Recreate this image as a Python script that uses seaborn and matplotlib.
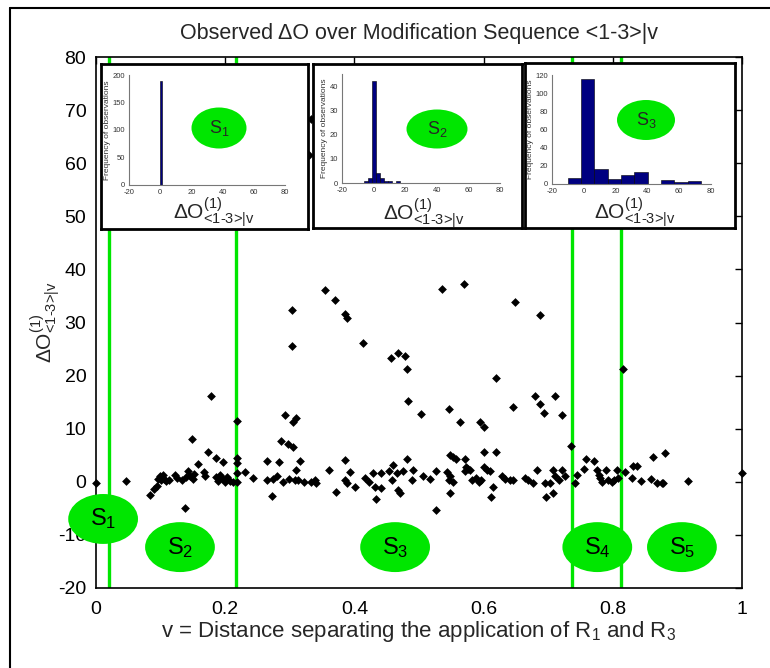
import matplotlib
matplotlib.use('Agg')
import matplotlib.pyplot as plt
from matplotlib.patches import Ellipse
from matplotlib.lines import Line2D
import pandas as pd
import seaborn as sns

# ---------------- data ----------------
v_values = [
    0.000,
    0.046, 0.084, 0.090, 0.094, 0.096, 0.101, 0.106, 0.109, 0.099, 0.104, 0.113,
    0.123, 0.126, 0.133, 0.137, 0.140, 0.142, 0.146, 0.148, 0.150, 0.152, 0.158,
    0.167, 0.168, 0.174, 0.178, 0.185, 0.186, 0.189, 0.192, 0.196, 0.197, 0.200,
    0.203, 0.207, 0.212,
    0.219, 0.219, 0.219, 0.219, 0.219, 0.231, 0.243, 0.265, 0.265, 0.272, 0.274,
    0.280, 0.283, 0.287, 0.289, 0.293, 0.297, 0.298, 0.304, 0.304, 0.305, 0.305,
    0.308, 0.310, 0.310, 0.313, 0.316, 0.322, 0.330, 0.333, 0.333, 0.339, 0.340,
    0.355, 0.361, 0.370, 0.372, 0.385, 0.388, 0.385, 0.385, 0.388, 0.393, 0.401,
    0.414, 0.416, 0.422, 0.429, 0.432, 0.433, 0.441, 0.441, 0.454, 0.456, 0.458,
    0.459, 0.466, 0.467, 0.468, 0.471, 0.476, 0.478, 0.481, 0.481, 0.483, 0.489,
    0.491, 0.503, 0.506, 0.517, 0.526, 0.526, 0.536, 0.543, 0.546, 0.547, 0.548,
    0.548, 0.548, 0.552, 0.553, 0.558, 0.563, 0.569, 0.571, 0.571, 0.573, 0.576,
    0.579, 0.582, 0.588, 0.593, 0.594, 0.596, 0.600, 0.600, 0.600, 0.605, 0.610,
    0.611, 0.614, 0.619, 0.619, 0.628, 0.633, 0.641, 0.646, 0.646, 0.649, 0.664,
    0.669, 0.677, 0.680, 0.682, 0.688, 0.688, 0.694, 0.695, 0.696, 0.703, 0.708,
    0.708, 0.710, 0.711, 0.716, 0.721, 0.721, 0.726, 0.736,
    0.741, 0.744, 0.755, 0.758, 0.771, 0.775, 0.778, 0.780, 0.784, 0.790, 0.793,
    0.798, 0.802, 0.806, 0.808,
    0.816, 0.819, 0.829, 0.832, 0.838, 0.843, 0.859, 0.862, 0.868, 0.876, 0.878,
    0.881, 0.917, 1.000,
]
dO_values = [
    -0.2,
    0.2, -2.5, -1.4, -0.8, 0.5, 0.3, 0.6, 0.15, 1.0, 1.2, 0.4,
    1.2, 0.7, 0.3, -4.9, 0.9, 2.1, 1.0, 8.1, 0.5, 1.5, 3.4,
    1.8, 1.0, 5.6, 16.2, 4.5, 0.9, 0.2, 1.3, 3.7, 0.5, 0.0,
    0.9, 0.2, 0.0,
    11.5, 4.4, 3.6, 1.6, -0.1, 1.8, 0.8, 3.9, 0.3, -2.7, 0.5,
    1.0, 3.7, 7.6, 0.0, 12.5, 7.2, 0.5, 32.4, 25.6, 11.3, 6.6,
    0.3, 12.1, 2.2, 0.3, 3.9, 0.0, 61.5, 68.3, 0.0, 0.3, -0.3,
    36.1, 2.2, 34.3, -1.9, 31.6, 30.9, 4.1, 0.3, -0.3, 1.9, -0.9,
    26.1, 0.7, 0.0, 1.6, -0.9, -3.2, -1.2, 1.7, 2.1, 23.3, 0.3,
    3.2, 1.6, 24.2, -1.5, -2.2, 2.0, 23.6, 21.2, 4.2, 15.3, 0.3,
    2.2, 12.7, 1.0, 0.5, 2.0, -5.3, 36.3, 1.9, 0.3, 13.8, 1.0,
    -2.2, 5.0, -0.1, 4.6, 4.2, 11.3, 37.2, 4.2, 2.0, 2.8, 2.5,
    2.2, 0.3, 0.7, 0.0, 11.3, 0.3, 10.4, 5.7, 2.7, 2.3, 2.1,
    -2.9, -0.9, 19.5, 5.7, 1.0, 0.5, 0.3, 14.1, 0.3, 33.8, 0.8,
    0.3, -0.2, 16.2, 2.2, 31.5, 14.7, 13.0, -0.2, -2.9, -0.2, 2.2,
    -2.2, 16.2, 1.0, 0.3, 12.5, 2.2, 1.0, 6.7,
    -0.2, 1.3, 2.5, 4.2, 3.9, 2.2, 1.3, 0.7, 0.0, 2.2, 0.3,
    0.0, 0.3, 2.2, 0.8,
    21.2, 1.9, 0.7, 3.0, 3.0, 0.15, 0.5, 4.7, -0.2, -0.2, -0.2,
    5.4, 0.2, 1.6,
]

segment_boundaries = [0.020, 0.217, 0.737, 0.812]
segment_names = ['S$_1$', 'S$_2$', 'S$_3$', 'S$_4$', 'S$_5$']

x_ticks = [0, 0.2, 0.4, 0.6, 0.8, 1.0]
x_tick_labels = ['0', '0.2', '0.4', '0.6', '0.8', '1']
y_ticks = [-20, -10, 0, 10, 20, 30, 40, 50, 60, 70, 80]

# inset histograms (bin edges and counts)
hist1_edges = [-0.1, 0.9]
hist1_counts = [190]
hist2_edges = [-6.0, -3.5, -1.0, 1.5, 4.0, 6.5, 9.0, 11.5, 14.0, 16.5]
hist2_counts = [1, 2, 42, 4, 2, 1, 1, 0, 1]
hist3_edges = [-10.1, -1.7, 6.6, 15.0, 23.4, 31.8, 40.1, 48.5, 56.9, 65.3, 73.6]
hist3_counts = [7, 116, 17, 6, 10, 13, 0, 4, 2, 3]
hist_yticks = [[0, 50, 100, 150, 200], [0, 10, 20, 30, 40], [0, 20, 40, 60, 80, 100, 120]]
hist_ylims = [200, 45, 120]
hist_xticks = [-20, 0, 20, 40, 60, 80]

# ---------------- style ----------------
sns.set_theme(style='white')
plt.rcParams['font.family'] = ['Liberation Sans', 'DejaVu Sans']
plt.rcParams['mathtext.fontset'] = 'custom'
plt.rcParams['mathtext.rm'] = 'Liberation Sans'
plt.rcParams['mathtext.it'] = 'Liberation Sans:italic'
plt.rcParams['mathtext.bf'] = 'Liberation Sans:bold'
plt.rcParams['axes.unicode_minus'] = False

GREEN = '#00E600'
NAVY = '#000080'
W, H = 770, 668
fig = plt.figure(figsize=(W / 100, H / 100), dpi=100)
fig.patch.set_facecolor('white')


def fx(px):
    return px / W


def fy(py):
    return 1 - py / H


def rect(l, t, r, b):
    return [fx(l), fy(b), fx(r) - fx(l), fy(t) - fy(b)]


# outer frame (left and top edges visible)
fig.add_artist(Line2D([fx(10), fx(10)], [fy(8), -0.01], transform=fig.transFigure, color='black', lw=1.5))
fig.add_artist(Line2D([fx(10), 1.01], [fy(8), fy(8)], transform=fig.transFigure, color='black', lw=1.5))

# ---------------- main axes ----------------
ax = fig.add_axes(rect(96, 57, 742, 588))
df = pd.DataFrame({'v': v_values, 'dO': dO_values})
sns.scatterplot(data=df, x='v', y='dO', ax=ax, marker='D', s=20, color='black',
                linewidth=0, zorder=3, clip_on=False, legend=False)
for b in segment_boundaries:
    ax.axvline(b, color=GREEN, lw=2.4, zorder=2)

ax.set_xlim(0, 1)
ax.set_ylim(-20, 80)
ax.set_xticks(x_ticks)
ax.set_xticklabels(x_tick_labels)
ax.set_yticks(y_ticks)
ax.tick_params(direction='in', length=5, width=1, top=True, right=True,
               labelsize=14, pad=7, colors='black')
ax.tick_params(axis='x', pad=9)
for sp in ax.spines.values():
    sp.set_visible(True)
    sp.set_color('black')
    sp.set_linewidth(1.2)
ax.set_xlabel('')
ax.set_ylabel('')

ell_pos = [(0.011, -7.0), (0.130, -12.3), (0.463, -12.3), (0.776, -12.3), (0.907, -12.3)]
for (ex, ey), name in zip(ell_pos, segment_names):
    ax.add_patch(Ellipse((ex, ey), 0.108, 9.4, facecolor=GREEN, edgecolor='none',
                         zorder=5, clip_on=False))
    ax.text(ex, ey, name, ha='center', va='center', fontsize=17, zorder=6, color='black')

fig.text(fx(419), fy(33), 'Observed \u0394O over Modification Sequence <1-3>|v',
         ha='center', va='center', fontsize=15.5)
fig.text(fx(418), fy(631), 'v = Distance separating the application of R$_1$ and R$_3$',
         ha='center', va='center', fontsize=16)
ylab = r'$\mathregular{\Delta O^{(1)}_{\text{<1-3>|v}}}$'
fig.text(fx(46), fy(322), ylab, ha='center', va='center', fontsize=15, rotation=90)

# ---------------- insets ----------------
boxes = [(101, 64, 308, 229), (313, 64, 522, 228), (525, 63, 735, 228)]
inner = [(129, 75, 285, 185), (342, 74, 500, 183), (552, 75, 711, 184)]
xlab_pos = [(214, 213), (424, 214), (635, 213)]
ell_in = [(219, 128, 55, 41), (437, 129, 61, 39), (646, 120, 58, 40)]
hists = [(hist1_edges, hist1_counts), (hist2_edges, hist2_counts), (hist3_edges, hist3_counts)]
inset_lab = r'$\mathregular{\Delta O^{(1)}_{\text{<1-3>|v}}}$'

for i in range(3):
    bax = fig.add_axes(rect(*boxes[i]), zorder=5)
    bax.set_xticks([])
    bax.set_yticks([])
    bax.set_facecolor('white')
    for sp in bax.spines.values():
        sp.set_visible(True)
        sp.set_color('black')
        sp.set_linewidth(2)

    iax = fig.add_axes(rect(*inner[i]), zorder=6)
    iax.patch.set_alpha(0)
    edges, counts = hists[i]
    centers = [(edges[k] + edges[k + 1]) / 2 for k in range(len(counts))]
    sns.histplot(x=centers, weights=counts, bins=edges, ax=iax, color=NAVY,
                 alpha=1, edgecolor='black', linewidth=0.4)
    iax.set_xlim(-20, 80)
    iax.set_ylim(0, hist_ylims[i])
    iax.set_xticks(hist_xticks)
    iax.set_yticks(hist_yticks[i])
    iax.tick_params(labelsize=5.5, length=2, width=0.5, direction='out', pad=1,
                    colors='#444444', labelcolor='#333333')
    for side in ['top', 'right']:
        iax.spines[side].set_visible(False)
    for side in ['left', 'bottom']:
        iax.spines[side].set_visible(True)
        iax.spines[side].set_color('#777777')
        iax.spines[side].set_linewidth(0.8)
    iax.set_xlabel('')
    iax.set_ylabel('Frequency of observations', fontsize=6, color='#333333', labelpad=1)

    cx, cy, w, h = ell_in[i]
    fig.add_artist(Ellipse((fx(cx), fy(cy)), w / W, h / H, transform=fig.transFigure,
                           facecolor=GREEN, edgecolor='none', zorder=7))
    fig.text(fx(cx), fy(cy), 'S$_{%d}$' % (i + 1), ha='center', va='center',
             fontsize=13, zorder=8)
    lx, ly = xlab_pos[i]
    fig.text(fx(lx), fy(ly), inset_lab, ha='center', va='center', fontsize=15, zorder=8)

fig.savefig('out.png', dpi=100, facecolor='white')
